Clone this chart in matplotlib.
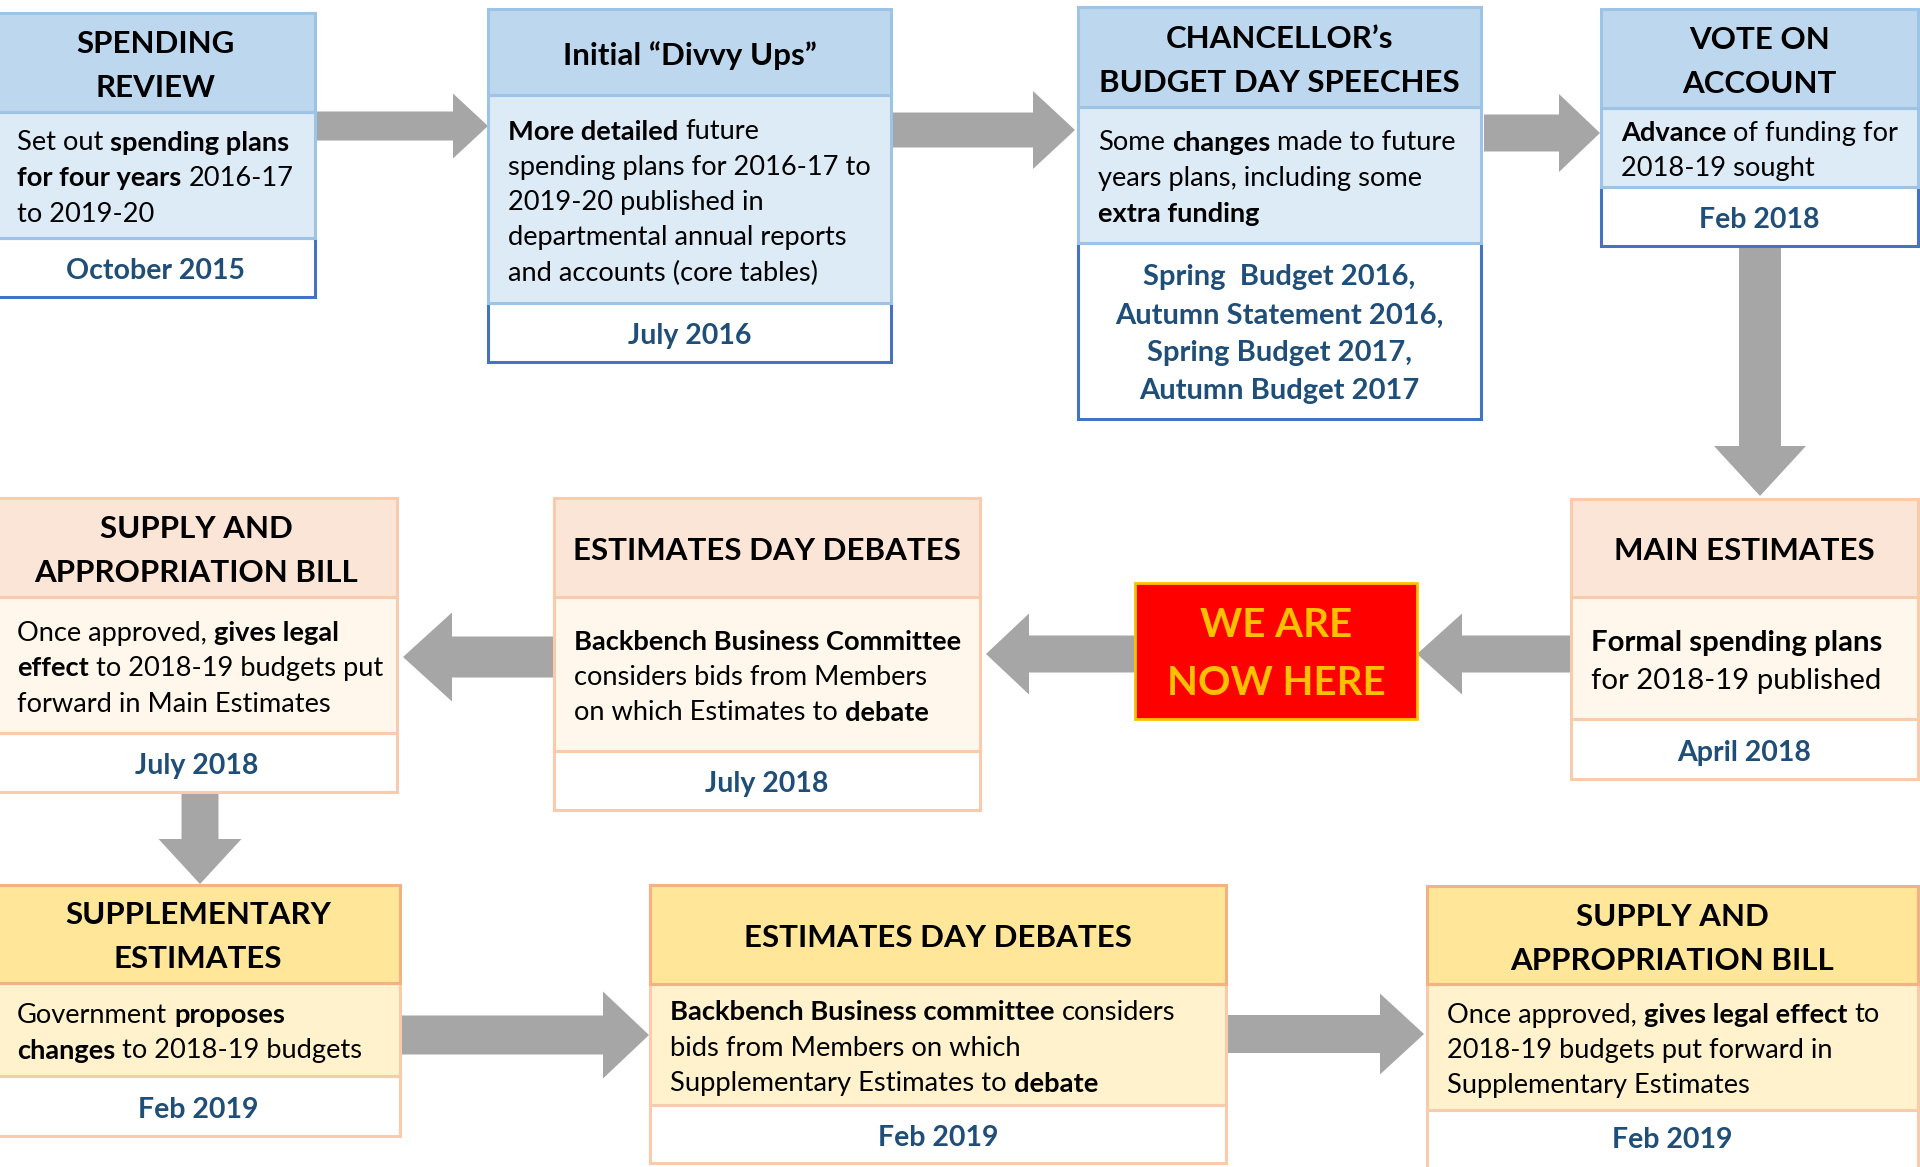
import matplotlib
matplotlib.use('Agg')
import matplotlib.pyplot as plt
from matplotlib.patches import Rectangle

plt.rcParams['font.family'] = ['Lato', 'DejaVu Sans']

# ---- content of the ten stages (flow order) ----
titles = [
    ['SPENDING', 'REVIEW'],
    ['Initial “Divvy Ups”'],
    ['CHANCELLOR’s', 'BUDGET DAY SPEECHES'],
    ['VOTE ON', 'ACCOUNT'],
    ['MAIN ESTIMATES'],
    ['ESTIMATES DAY DEBATES'],
    ['SUPPLY AND', 'APPROPRIATION BILL'],
    ['SUPPLEMENTARY', 'ESTIMATES'],
    ['ESTIMATES DAY DEBATES'],
    ['SUPPLY AND', 'APPROPRIATION BILL'],
]

# **...** marks bold runs
bodies = [
    ['Set out **spending plans**', '**for four years** 2016-17', 'to 2019-20'],
    ['**More detailed** future', 'spending plans for 2016-17 to', '2019-20 published in',
     'departmental annual reports', 'and accounts (core tables)'],
    ['Some **changes** made to future', 'years plans, including some', '**extra funding**'],
    ['**Advance** of funding for', '2018-19 sought'],
    ['**Formal spending plans**', 'for 2018-19 published'],
    ['**Backbench Business Committee**', 'considers bids from Members',
     'on which Estimates to **debate**'],
    ['Once approved, **gives legal**', '**effect** to 2018-19 budgets put',
     'forward in Main Estimates'],
    ['Government **proposes**', '**changes** to 2018-19 budgets'],
    ['**Backbench Business committee** considers', 'bids from Members on which',
     'Supplementary Estimates to **debate**'],
    ['Once approved, **gives legal effect** to', '2018-19 budgets put forward in',
     'Supplementary Estimates'],
]

dates = [
    ['October 2015'],
    ['July 2016'],
    ['Spring  Budget 2016,', 'Autumn Statement 2016,', 'Spring Budget 2017,', 'Autumn Budget 2017'],
    ['Feb 2018'],
    ['April 2018'],
    ['July 2018'],
    ['July 2018'],
    ['Feb 2019'],
    ['Feb 2019'],
    ['Feb 2019'],
]

status_text = ['WE ARE', 'NOW HERE']

# ---- layout (pixels, y downwards): x0, x1, top, header bottom, body bottom, date bottom ----
box_layout = [
    (-4, 315, 13, 112, 238, 297),
    (488, 891, 9, 95, 303, 362),
    (1078, 1481, 7, 107, 243, 419),
    (1601, 1918, 9, 108, 187, 246),
    (1571, 1918, 499, 597, 719, 779),
    (554, 980, 498, 597, 751, 810),
    (-4, 397, 498, 597, 733, 792),
    (-4, 400, 885, 983, 1076, 1136),
    (650, 1226, 885, 984, 1105, 1163),
    (1427, 1918, 886, 984, 1110, 1180),
]
box_style = ['blue'] * 4 + ['peach'] * 3 + ['yellow'] * 3
body_size = [19.6, 19.6, 19.6, 19.6, 21.2, 19.6, 19.6, 19.6, 19.7, 19.6]
date_size = [20.5, 20.5, 21, 20.5, 20.5, 20.5, 20.5, 20.5, 20.5, 20.5]

styles = {
    'blue':   dict(head='#BDD7EE', body='#DDEBF7', eh='#9DC3E6', eb='#9DC3E6', ed='#4472C4'),
    'peach':  dict(head='#FBE5D6', body='#FFF7EB', eh='#F8CBAD', eb='#F8CBAD', ed='#F8CBAD'),
    'yellow': dict(head='#FFE699', body='#FFF2CC', eh='#F4B183', eb='#F8CBAD', ed='#F8CBAD'),
}

# arrows: start point, end point, shaft width, head width, head length
arrows = [
    ((315, 126), (488, 126), 29, 65, 35),
    ((891, 130), (1075, 130), 35, 78, 42),
    ((1484, 133), (1600, 133), 37, 78, 41),
    ((1760, 246), (1760, 496), 42, 92, 50),
    ((1571, 654), (1417, 654), 37, 81, 45),
    ((1135, 654), (986, 654), 37, 81, 43),
    ((554, 657), (403, 657), 41, 89, 49),
    ((200, 792), (200, 884), 37, 83, 45),
    ((400, 1035), (649, 1035), 39, 87, 46),
    ((1226, 1034), (1424, 1034), 38, 81, 44),
]

DY = 3.5  # text sits a little lower than matplotlib's centre

fig = plt.figure(figsize=(19.2, 11.67), dpi=100)
ax = fig.add_axes([0, 0, 1, 1])
ax.set_xlim(0, 1920)
ax.set_ylim(1167, 0)
ax.axis('off')
renderer = fig.canvas.get_renderer()

_space = {}


def space_width(size, weight):
    key = (size, weight)
    if key not in _space:
        a = ax.text(0, 0, 'n n', fontsize=size, fontweight=weight)
        b = ax.text(0, 0, 'nn', fontsize=size, fontweight=weight)
        _space[key] = a.get_window_extent(renderer).width - b.get_window_extent(renderer).width
        a.remove()
        b.remove()
    return _space[key]


def rich_line(x, y, line, size):
    cx = x
    for i, part in enumerate(line.split('**')):
        if not part:
            continue
        weight = 'bold' if i % 2 else 'normal'
        lead = len(part) - len(part.lstrip(' '))
        trail = len(part) - len(part.rstrip(' '))
        core = part.strip(' ')
        cx += lead * space_width(size, weight)
        t = ax.text(cx, y, core, fontsize=size, fontweight=weight, color='black',
                    ha='left', va='center', zorder=5)
        cx += t.get_window_extent(renderer).width + trail * space_width(size, weight)


# arrows go underneath the boxes
for (x0, y0), (x1, y1), w, hw, hl in arrows:
    ax.arrow(x0, y0, x1 - x0, y1 - y0, width=w, head_width=hw, head_length=hl,
             length_includes_head=True, fc='#A6A6A6', ec='none', zorder=1)

for i, (x0, x1, top, hb, bb, db) in enumerate(box_layout):
    st = styles[box_style[i]]
    w = x1 - x0
    ax.add_patch(Rectangle((x0, bb), w, db - bb, fc='white', ec=st['ed'], lw=2.2, zorder=2))
    ax.add_patch(Rectangle((x0, hb), w, bb - hb, fc=st['body'], ec=st['eb'], lw=2.2, zorder=3))
    ax.add_patch(Rectangle((x0, top), w, hb - top, fc=st['head'], ec=st['eh'], lw=2.2, zorder=4))

    # header
    yc = (top + hb) / 2 + DY
    n = len(titles[i])
    for k, line in enumerate(titles[i]):
        ax.text((x0 + x1) / 2, yc + (k - (n - 1) / 2) * 44, line, fontsize=22.5,
                fontweight='bold', ha='center', va='center', color='black', zorder=5)

    # body
    yc = (bb + hb) / 2 + DY
    n = len(bodies[i])
    sp = 38 if body_size[i] > 20 else 35.5
    left = x0 + 20 if x0 > 0 else 17
    for k, line in enumerate(bodies[i]):
        rich_line(left, yc + (k - (n - 1) / 2) * sp, line, body_size[i])

    # date (last box runs off the bottom edge, keep its label in the visible part)
    yc = (bb + min(db, 1163)) / 2 + DY
    n = len(dates[i])
    for k, line in enumerate(dates[i]):
        ax.text((x0 + x1) / 2, yc + (k - (n - 1) / 2) * 38, line, fontsize=date_size[i],
                fontweight='bold', ha='center', va='center', color='#1F4E79', zorder=5)

# "we are now here" marker
ax.add_patch(Rectangle((1135, 583), 282, 136, fc='#FF0000', ec='#FFC000', lw=2, zorder=4))
for k, line in enumerate(status_text):
    ax.text(1276, 622 + DY + k * 58, line, fontsize=29, fontweight='bold', color='#FFC000',
            ha='center', va='center', zorder=5)

fig.savefig('out.png', dpi=100)
